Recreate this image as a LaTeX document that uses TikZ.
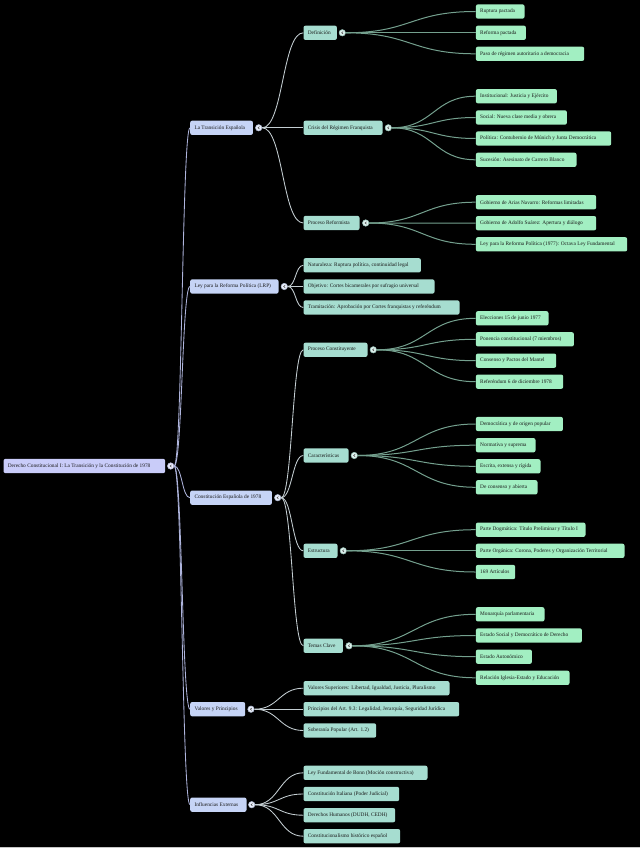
\documentclass[tikz,border=0pt]{standalone}
\usepackage{fontspec}
\setmainfont{Liberation Serif}
\definecolor{rootc}{HTML}{C9CCF9}
\definecolor{lvA}{HTML}{C6D4F6}
\definecolor{lvB}{HTML}{A6DDD0}
\definecolor{lvC}{HTML}{A2EFC2}
\definecolor{txt}{HTML}{1A1A1A}
\definecolor{lkA}{HTML}{AEB4DC}
\definecolor{lkB}{HTML}{C4CED2}
\definecolor{lkC}{HTML}{74A08E}
\begin{document}
\begin{tikzpicture}[x=1pt,y=-1pt,
  box/.style={rectangle,rounded corners=2pt,anchor=west,inner xsep=4.3pt,inner ysep=0pt,
    minimum height=14.3pt,text=txt,font=\fontsize{5.35}{6}\selectfont},
  boxR/.style={box,fill=rootc},
  boxA/.style={box,fill=lvA},
  boxB/.style={box,fill=lvB},
  boxC/.style={box,fill=lvC},
  tog/.style={circle,minimum size=6.4pt,inner sep=0pt,fill=#1!35!white,draw=#1!70!gray,line width=0.6pt,
    path picture={\draw[txt!80!white,line width=0.5pt]
      ([xshift=0.8pt,yshift=1.2pt]path picture bounding box.center) --
      ([xshift=-0.7pt]path picture bounding box.center) --
      ([xshift=0.8pt,yshift=-1.2pt]path picture bounding box.center);}},
  lk0/.style={draw=lkA,line width=0.85pt},
  lk1/.style={draw=lkB,line width=0.85pt},
  lk2/.style={draw=lkC,line width=1pt}
]
\newcommand\bn[6]{\pgfmathsetmacro\tw{#5-#3-8.6}\node[#1] (#2) at (#3,#4) {\makebox[\tw pt][l]{#6}};}
\newcommand\lk[4]{\draw[#1] (#2.east) .. controls +(#4,0) and +(-#4,0) .. (#3.west);}
\fill[black] (0,0) rectangle (640,848);
\useasboundingbox (0,0) rectangle (640,848);
\fill[gray!45] (0,846.5) rectangle (640,848);

% ---- nodes
\bn{boxR}{r}{3.3}{466}{165}{Derecho Constitucional I: La Transición y la Constitución de 1978}

\bn{boxA}{a}{190}{127.8}{252.7}{La Transición Española}
\bn{boxA}{b}{190}{286.5}{278.3}{Ley para la Reforma Política (LRP)}
\bn{boxA}{c}{190}{497.7}{271.7}{Constitución Española de 1978}
\bn{boxA}{d}{190}{709.2}{245}{Valores y Principios}
\bn{boxA}{e}{190}{804.7}{246.3}{Influencias Externas}

\bn{boxB}{a1}{303.3}{32.8}{336.7}{Definición}
\bn{boxB}{a2}{303.3}{127.8}{382.3}{Crisis del Régimen Franquista}
\bn{boxB}{a3}{303.3}{223}{359.3}{Proceso Reformista}
\bn{boxB}{b1}{303.3}{265.3}{420.7}{Naturaleza: Ruptura política, continuidad legal}
\bn{boxB}{b2}{303.3}{286.5}{434.3}{Objetivo: Cortes bicamerales por sufragio universal}
\bn{boxB}{b3}{303.3}{307.5}{459.3}{Tramitación: Aprobación por Cortes franquistas y referéndum}
\bn{boxB}{c1}{303.3}{349.8}{367.3}{Proceso Constituyente}
\bn{boxB}{c2}{303.3}{455.5}{348.3}{Características}
\bn{boxB}{c3}{303.3}{550.8}{337.3}{Estructura}
\bn{boxB}{c4}{303.3}{645.8}{342.7}{Temas Clave}
\bn{boxB}{d1}{303.3}{688.2}{449.3}{Valores Superiores: Libertad, Igualdad, Justicia, Pluralismo}
\bn{boxB}{d2}{303.3}{709.2}{459}{Principios del Art. 9.3: Legalidad, Jerarquía, Seguridad Jurídica}
\bn{boxB}{d3}{303.3}{730.5}{376}{Soberanía Popular (Art. 1.2)}
\bn{boxB}{e1}{303.3}{772.8}{427.3}{Ley Fundamental de Bonn (Moción constructiva)}
\bn{boxB}{e2}{303.3}{794}{399}{Constitución Italiana (Poder Judicial)}
\bn{boxB}{e3}{303.3}{815.2}{395}{Derechos Humanos (DUDH, CEDH)}
\bn{boxB}{e4}{303.3}{836.2}{400}{Constitucionalismo histórico español}

\bn{boxC}{a11}{475.7}{11.5}{524.3}{Ruptura pactada}
\bn{boxC}{a12}{475.7}{32.8}{525.7}{Reforma pactada}
\bn{boxC}{a13}{475.7}{53.8}{584}{Paso de régimen autoritario a democracia}
\bn{boxC}{a21}{475.7}{96.2}{556.7}{Institucional: Justicia y Ejército}
\bn{boxC}{a22}{475.7}{117.5}{566.7}{Social: Nueva clase media y obrera}
\bn{boxC}{a23}{475.7}{138.5}{611}{Política: Contubernio de Múnich y Junta Democrática}
\bn{boxC}{a24}{475.7}{159.8}{576.3}{Sucesión: Asesinato de Carrero Blanco}
\bn{boxC}{a31}{475.7}{202.2}{596}{Gobierno de Arias Navarro: Reformas limitadas}
\bn{boxC}{a32}{475.7}{223.2}{596}{Gobierno de Adolfo Suárez: Apertura y diálogo}
\bn{boxC}{a33}{475.7}{244.3}{627}{Ley para la Reforma Política (1977): Octava Ley Fundamental}
\bn{boxC}{c11}{475.7}{318.3}{548.3}{Elecciones 15 de junio 1977}
\bn{boxC}{c12}{475.7}{339.3}{573.7}{Ponencia constitucional (7 miembros)}
\bn{boxC}{c13}{475.7}{360.7}{556}{Consenso y Pactos del Mantel}
\bn{boxC}{c14}{475.7}{381.7}{563}{Referéndum 6 de diciembre 1978}
\bn{boxC}{c21}{475.7}{424}{562.7}{Democrática y de origen popular}
\bn{boxC}{c22}{475.7}{445.2}{535.3}{Normativa y suprema}
\bn{boxC}{c23}{475.7}{466.3}{540.3}{Escrita, extensa y rígida}
\bn{boxC}{c24}{475.7}{487.3}{537.3}{De consenso y abierta}
\bn{boxC}{c31}{475.7}{529.7}{585.3}{Parte Dogmática: Título Preliminar y Título I}
\bn{boxC}{c32}{475.7}{550.8}{624.3}{Parte Orgánica: Corona, Poderes y Organización Territorial}
\bn{boxC}{c33}{475.7}{572}{515}{169 Artículos}
\bn{boxC}{c41}{475.7}{614.3}{544.3}{Monarquía parlamentaria}
\bn{boxC}{c42}{475.7}{635.5}{581.7}{Estado Social y Democrático de Derecho}
\bn{boxC}{c43}{475.7}{656.7}{531.7}{Estado Autonómico}
\bn{boxC}{c44}{475.7}{677.8}{569.3}{Relación Iglesia-Estado y Educación}

% ---- toggles
\node[tog=rootc] (t0) at (170.7,466) {};
\node[tog=lvA] (ta) at (258.7,127.8) {};
\node[tog=lvA] (tb) at (284.3,286.5) {};
\node[tog=lvA] (tc) at (277.7,497.7) {};
\node[tog=lvA] (td) at (251,709.2) {};
\node[tog=lvA] (te) at (251.7,804.7) {};
\node[tog=lvB] (ta1) at (342.3,32.8) {};
\node[tog=lvB] (ta2) at (388.3,127.8) {};
\node[tog=lvB] (ta3) at (365.7,223) {};
\node[tog=lvB] (tc1) at (373.3,349.8) {};
\node[tog=lvB] (tc2) at (354.3,455.5) {};
\node[tog=lvB] (tc3) at (343.3,550.8) {};
\node[tog=lvB] (tc4) at (349,645.8) {};

% ---- links
\foreach \n in {a,b,c,d,e} {\lk{lk0}{t0}{\n}{8}}
\foreach \n in {a1,a2,a3} {\lk{lk1}{ta}{\n}{21}}
\foreach \n in {b1,b2,b3} {\lk{lk1}{tb}{\n}{8}}
\foreach \n in {c1,c2,c3,c4} {\lk{lk1}{tc}{\n}{11}}
\foreach \n in {d1,d2,d3} {\lk{lk1}{td}{\n}{24}}
\foreach \n in {e1,e2,e3,e4} {\lk{lk1}{te}{\n}{24}}
\foreach \n in {a11,a12,a13} {\lk{lk2}{ta1}{\n}{65}}
\foreach \n in {a21,a22,a23,a24} {\lk{lk2}{ta2}{\n}{42}}
\foreach \n in {a31,a32,a33} {\lk{lk2}{ta3}{\n}{53}}
\foreach \n in {c11,c12,c13,c14} {\lk{lk2}{tc1}{\n}{50}}
\foreach \n in {c21,c22,c23,c24} {\lk{lk2}{tc2}{\n}{59}}
\foreach \n in {c31,c32,c33} {\lk{lk2}{tc3}{\n}{65}}
\foreach \n in {c41,c42,c43,c44} {\lk{lk2}{tc4}{\n}{62}}
\end{tikzpicture}
\end{document}
